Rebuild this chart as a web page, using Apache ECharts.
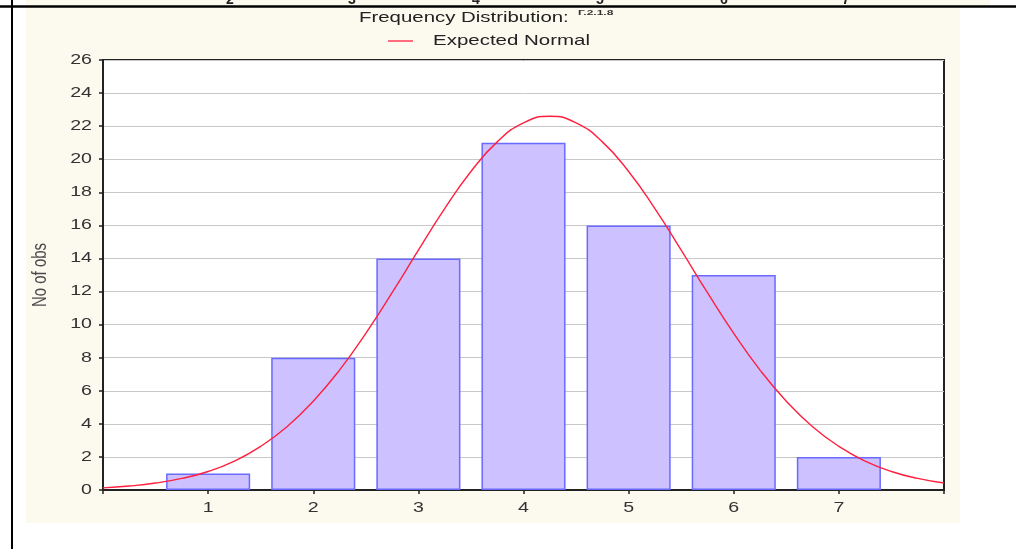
<!DOCTYPE html>
<html>
<head>
<meta charset="utf-8">
<script src="https://cdn.jsdelivr.net/npm/echarts@6/dist/echarts.min.js"></script>
<style>
  html, body { margin: 0; padding: 0; background: #ffffff; }
  #chart { width: 1016px; height: 549px; }
</style>
</head>
<body>
<div id="chart"></div>
<script>
// Histogram categories and observed counts
const binCenters = [1, 2, 3, 4, 5, 6, 7];
const counts = [1, 8, 14, 21, 16, 13, 2];

// Expected normal curve, sampled every quarter unit
const normalX = [0, 0.25, 0.5, 0.75, 1, 1.25, 1.5, 1.75, 2, 2.25, 2.5, 2.75, 3, 3.25, 3.5, 3.75, 4,
                 4.25, 4.5, 4.75, 5, 5.25, 5.5, 5.75, 6, 6.25, 6.5, 6.75, 7, 7.25, 7.5, 7.75, 8];
const normalY = [0.13, 0.24, 0.42, 0.70, 1.12, 1.75, 2.64, 3.83, 5.37, 7.25, 9.47, 11.93, 14.50, 17.01, 19.26, 21.05, 22.20,
                 22.60, 22.20, 21.05, 19.26, 17.01, 14.50, 11.93, 9.47, 7.25, 5.37, 3.83, 2.64, 1.75, 1.12, 0.70, 0.42];

// Tick labels
const xTickLabels = [1, 2, 3, 4, 5, 6, 7];
const yTickLabels = [0, 2, 4, 6, 8, 10, 12, 14, 16, 18, 20, 22, 24, 26];

// Axis labels of the neighbouring chart, clipped at the top edge
const topFragmentLabels = ['2', '3', '4', '5', '6', '7'];
const topFragmentX = [230, 352, 476, 600, 724, 846];

const barData = binCenters.map((x, i) => [x, counts[i]]);
const lineData = normalX.map((x, i) => [x, normalY[i]]);

const FONT = '"Liberation Sans", Arial, sans-serif';
const WIDE = 1.4;   // the Statistica-style text is drawn horizontally widened

const chart = echarts.init(document.getElementById('chart'), null, { renderer: 'canvas' });

const graphics = [
  // cream panel behind the chart
  { type: 'rect', z: -100, silent: true, shape: { x: 26, y: 0, width: 964, height: 7 }, style: { fill: '#fcfaef' } },
  { type: 'rect', z: -100, silent: true, shape: { x: 26, y: 7, width: 934, height: 516 }, style: { fill: '#fcfaef' } },
  // table rules
  { type: 'line', z: 100, silent: true, shape: { x1: 0, y1: 6.5, x2: 1016, y2: 6.5 }, style: { stroke: '#000', lineWidth: 2.6 } },
  { type: 'line', z: 100, silent: true, shape: { x1: 12, y1: 0, x2: 12, y2: 549 }, style: { stroke: '#000', lineWidth: 2 } },
  // title with small superscript tag
  {
    type: 'text', z: 50, silent: true, x: 359, y: 18, scaleX: 1.36,
    style: { text: 'Frequency Distribution:', fill: '#222', font: '15px ' + FONT, textAlign: 'left', textVerticalAlign: 'middle' }
  },
  {
    type: 'text', z: 50, silent: true, x: 578, y: 13, scaleX: 1.5,
    style: { text: 'Г.2.1.8', fill: '#333', font: 'bold 8px ' + FONT, textAlign: 'left', textVerticalAlign: 'middle' }
  },
  // legend entry
  { type: 'line', z: 50, silent: true, shape: { x1: 388, y1: 41, x2: 413, y2: 41 }, style: { stroke: '#ff2040', lineWidth: 1.3 } },
  {
    type: 'text', z: 50, silent: true, x: 433, y: 41, scaleX: 1.365,
    style: { text: 'Expected Normal', fill: '#222', font: '15px ' + FONT, textAlign: 'left', textVerticalAlign: 'middle' }
  },
  // y-axis title
  {
    type: 'text', z: 50, silent: true, x: 40, y: 275, rotation: Math.PI / 2, scaleY: WIDE,
    style: { text: 'No of obs', fill: '#4a4a4a', font: '15px ' + FONT, textAlign: 'center', textVerticalAlign: 'middle' }
  }
];
topFragmentLabels.forEach((t, i) => {
  graphics.push({
    type: 'text', z: 50, silent: true, x: topFragmentX[i], y: 0,
    style: { text: t, fill: '#222', font: 'bold 14px ' + FONT, textAlign: 'center', textVerticalAlign: 'middle' }
  });
});

// widened tick label placed through the axis scales
function tickText(text, x, y, align, vAlign) {
  return {
    type: 'text', x: x, y: y, scaleX: WIDE,
    style: {
      text: text, fill: '#333', font: '14px ' + FONT,
      align: align, verticalAlign: vAlign, textAlign: align, textVerticalAlign: vAlign
    }
  };
}

const frameAxis = {
  axisLine: { show: true, lineStyle: { color: '#222', width: 2 } },
  axisTick: { show: true, inside: true, length: 4, lineStyle: { color: '#222', width: 1.5 } },
  axisLabel: { show: false },
  splitLine: { show: false }
};

chart.setOption({
  backgroundColor: 'transparent',
  animation: false,
  grid: {
    left: 103,
    right: 72,
    top: 60,
    bottom: 59,
    show: true,
    backgroundColor: '#ffffff',
    borderColor: '#222',
    borderWidth: 2
  },
  xAxis: [
    Object.assign({ type: 'value', min: 0, max: 8, interval: 1 }, frameAxis),
    Object.assign({ type: 'value', position: 'top', min: 0, max: 8, interval: 1 }, frameAxis)
  ],
  yAxis: [
    Object.assign({ type: 'value', min: 0, max: 26, interval: 2 }, frameAxis, {
      axisTick: { show: true, inside: false, length: 4, lineStyle: { color: '#222', width: 1.5 } },
      splitLine: { show: true, lineStyle: { color: '#c8c8c8', width: 1 } }
    }),
    Object.assign({ type: 'value', position: 'right', min: 0, max: 26, interval: 2 }, frameAxis)
  ],
  series: [
    {
      name: 'No of obs',
      type: 'bar',
      barWidth: '80%',
      data: barData,
      itemStyle: { color: '#cdc2ff', borderColor: '#6a6aff', borderWidth: 1.5 },
      z: 2
    },
    {
      name: 'Expected Normal',
      type: 'line',
      smooth: true,
      symbol: 'none',
      data: lineData,
      lineStyle: { color: '#ff2040', width: 1.4 },
      itemStyle: { color: '#ff2040' },
      z: 3
    },
    {
      // y tick labels
      type: 'custom',
      silent: true,
      clip: false,
      data: yTickLabels.map(v => [0, v]),
      renderItem: (params, api) => {
        const p = api.coord([api.value(0), api.value(1)]);
        return tickText(String(api.value(1)), p[0] - 11, p[1], 'right', 'middle');
      },
      z: 4
    },
    {
      // x tick labels
      type: 'custom',
      silent: true,
      clip: false,
      data: xTickLabels.map(v => [v, 0]),
      renderItem: (params, api) => {
        const p = api.coord([api.value(0), api.value(1)]);
        return tickText(String(api.value(0)), p[0], p[1] + 18, 'center', 'middle');
      },
      z: 4
    }
  ],
  graphic: graphics
});
</script>
</body>
</html>
